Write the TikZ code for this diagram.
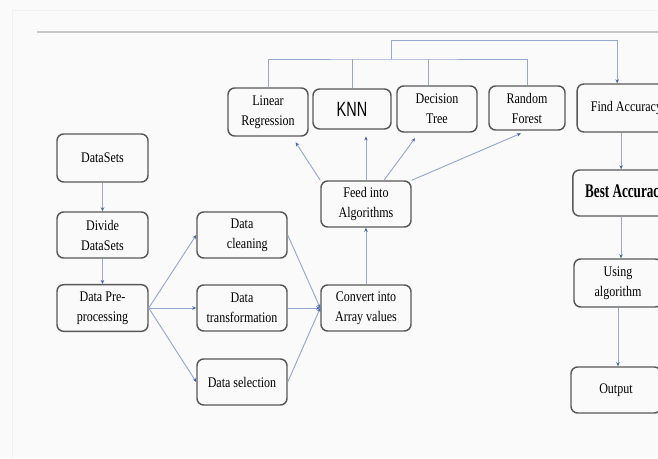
\documentclass[tikz,border=0pt]{standalone}
\usepackage{fontspec}
\setmainfont{Liberation Serif}[FakeStretch=0.82]
\newfontfamily\knnfont{Liberation Sans}[FakeStretch=0.7]
\newfontfamily\bestfont{Liberation Serif Bold}[FakeStretch=0.68]
\usepackage{tikz}
\usetikzlibrary{arrows.meta}
\definecolor{bgcolor}{RGB}{250,250,250}
\definecolor{edgecolor}{RGB}{88,88,88}
\definecolor{linkcolor}{RGB}{150,168,205}
\definecolor{tipcolor}{RGB}{70,100,170}
\definecolor{rulecolor}{RGB}{200,200,200}

\begin{document}
\begin{tikzpicture}[x=0.75pt, y=-0.75pt,
  box/.style={draw=edgecolor, line width=1.1pt, rounded corners=5pt, align=center,
    minimum width=67.5pt, minimum height=34.5pt, inner sep=1pt,
    font=\fontsize{11}{15}\selectfont},
  link/.style={draw=linkcolor, line width=0.7pt, -{Stealth[length=3pt, width=2.6pt, color=tipcolor]}},
  bus/.style={draw=linkcolor, line width=0.7pt}]
\useasboundingbox (0,0) rectangle (658,458);
\fill[bgcolor] (0,0) rectangle (658,458);
% page edge and top rule
\draw[gray!12, line width=0.6pt] (12,458) -- (12,10) -- (658,10);
\draw[rulecolor, line width=1.4pt] (37,32) -- (658,32);

% Input and preprocessing
\node[box, minimum width=68.25pt, minimum height=36pt] (ds) at (102.5,158) {DataSets};
\node[box, minimum width=68.25pt] (divide) at (102.5,235) {Divide\\DataSets};
\node[box, minimum width=68.25pt, minimum height=35pt] (prep) at (102.5,308) {Data Pre-\\processing};
\node[box] (clean) at (242,235) {Data\\\hspace*{8pt}cleaning};
\node[box] (trans) at (242,308) {Data\\transformation};
\node[box] (sel) at (242,382) {Data selection};
\node[box] (conv) at (366,308) {Convert into\\Array values};
\node[box] (feed) at (366,204) {Feed into\\Algorithms};

% Algorithms
\node[box, minimum width=60pt, minimum height=36pt] (lr) at (268,112) {Linear\\Regression};
\node[box, minimum width=58.5pt, minimum height=30pt, font=\knnfont\fontsize{15.5}{17}\selectfont] (knn) at (352,109) {KNN};
\node[box, minimum width=60pt] (dt) at (437,109) {Decision\\Tree};
\node[box, minimum width=57pt, minimum height=33pt] (rf) at (527,108) {Random\\Forest};

% Accuracy and output
\node[box, minimum width=74pt, minimum height=36pt] (find) at (626.5,108) {Find Accuracy};
\node[box, minimum width=79pt, font=\bestfont\fontsize{14.5}{16}\selectfont] (best) at (625.5,193) {Best Accuracy};
\node[box, minimum width=66pt, minimum height=36pt] (using) at (618,283) {Using\\algorithm};
\node[box] (output) at (616,390) {Output};

% Connectors on the left
\draw[link] (ds) -- (divide);
\draw[link] (divide) -- (prep);
\draw[link] (prep.east) -- (clean.west);
\draw[link] (prep.east) -- (trans.west);
\draw[link] (prep.east) -- (sel.west);
\draw[link] (clean.east) -- (conv.west);
\draw[link] (trans.east) -- (conv.west);
\draw[link] (sel.east) -- (conv.west);
\draw[link] (conv) -- (feed);

% Feed into the algorithms
\draw[link, shorten >=5pt] (feed.north west) -- ([xshift=18pt]lr.south);
\draw[link, shorten >=5pt] (feed.north) -- (feed.north |- knn.south);
\draw[link, shorten >=5pt] ([xshift=13.5pt]feed.north) -- ([xshift=-13.5pt]dt.south);
\draw[link, shorten >=5pt] (feed.north east) -- (rf.south);

% Bus to Find Accuracy
\coordinate (bus) at (391,59);
\coordinate (bustop) at (391,40);
\draw[bus] (lr.north) |- (bus) -| (rf.north);
\draw[bus] (knn.north) -- (knn.north |- bus);
\draw[bus] ([xshift=-6.75pt]dt.north) -- ([xshift=-6.75pt]dt.north |- bus);
\draw[link] (bus) -- (bustop) -| ([xshift=-7pt]find.north);

% Right column
\draw[link] ([xshift=-4pt]find.south) -- ([xshift=-4pt]find.south |- best.north);
\draw[link] ([xshift=-3.4pt]best.south) -- ([xshift=-3.4pt]best.south |- using.north);
\draw[link] (using.south) -- (using.south |- output.north);
\end{tikzpicture}
\end{document}
